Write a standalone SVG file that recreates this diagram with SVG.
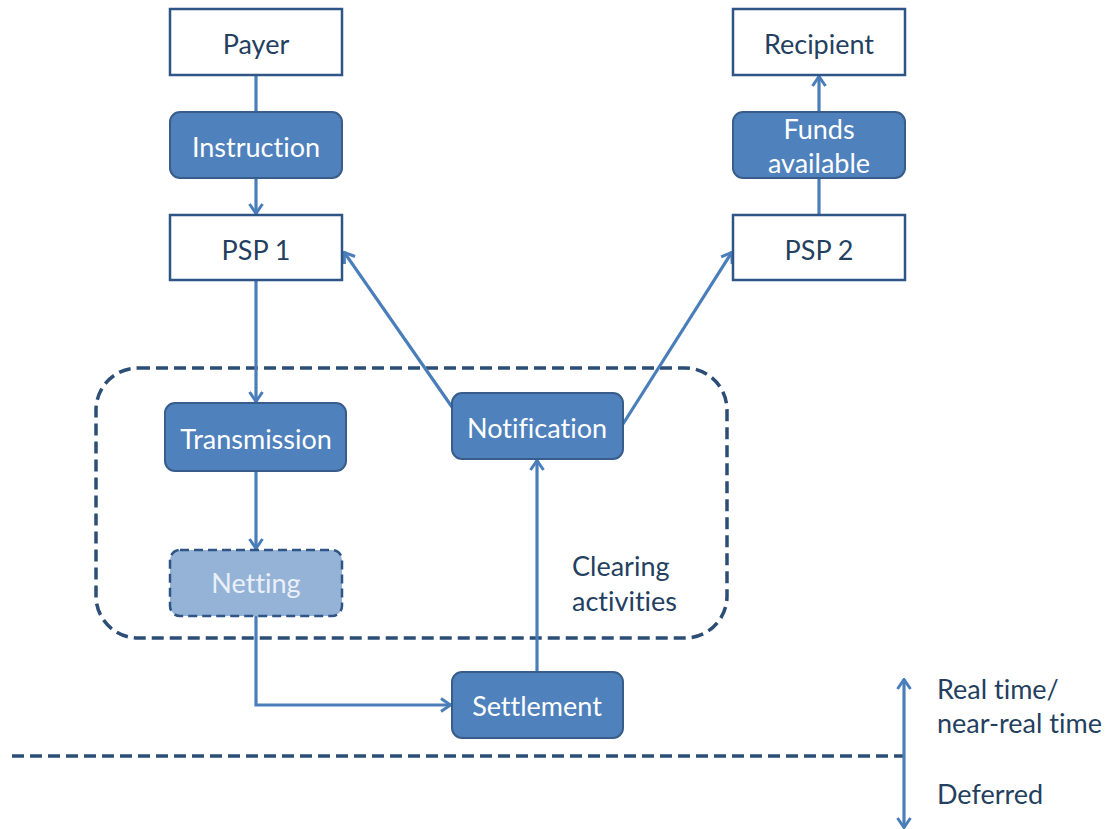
<svg xmlns="http://www.w3.org/2000/svg" width="1114" height="829" viewBox="0 0 1114 829">
<style>
.wbox{fill:#fff;stroke:#2f5587;stroke-width:2.5}
.bbox{fill:#4f81bd;stroke:#385d8a;stroke-width:2}
.nbox{fill:#95b3d7;stroke:#2f5587;stroke-width:2.5;stroke-dasharray:9 5}
.t{font-family:Lato,"Liberation Sans",sans-serif;font-size:27px;text-anchor:middle;dominant-baseline:central;font-variant-ligatures:none}
.dk{fill:#243f60}
.wt{fill:#fff}
.nt{fill:#eaf0f8}
.lbl{font-family:Lato,"Liberation Sans",sans-serif;font-size:27px;fill:#243f60;dominant-baseline:central;font-variant-ligatures:none}
.c{fill:none;stroke:#4a7ebb;stroke-width:3.2}
.dash{fill:none;stroke:#2c4d75;stroke-width:3.5;stroke-dasharray:12 6}
</style>
<defs>
<marker id="ah" viewBox="0 0 14 16" refX="13" refY="8" markerWidth="14" markerHeight="16" markerUnits="userSpaceOnUse" orient="auto-start-reverse">
<polyline points="3,1.5 12.5,8 3,14.5" fill="none" stroke="#4a7ebb" stroke-width="3"/>
</marker>
</defs>
<g id="clearing-group">
<rect class="dash" x="96" y="368" width="631" height="270" rx="42"/>
<text class="lbl" x="572" y="565">Clearing</text>
<text class="lbl" x="572" y="600">activities</text>
</g>
<g id="connectors">
<line class="c" x1="256" y1="75" x2="256" y2="112"/>
<line class="c" x1="256" y1="178" x2="256" y2="214" marker-end="url(#ah)"/>
<line class="c" x1="256" y1="280" x2="256" y2="402" marker-end="url(#ah)"/>
<line class="c" x1="256" y1="471" x2="256" y2="549" marker-end="url(#ah)"/>
<polyline class="c" points="256,616 256,705 451,705" marker-end="url(#ah)"/>
<line class="c" x1="537" y1="672" x2="537" y2="460" marker-end="url(#ah)"/>
<line class="c" x1="452" y1="407" x2="344" y2="252" marker-end="url(#ah)"/>
<line class="c" x1="623" y1="424" x2="732" y2="252" marker-end="url(#ah)"/>
<line class="c" x1="819" y1="215" x2="819" y2="178"/>
<line class="c" x1="819" y1="112" x2="819" y2="76" marker-end="url(#ah)"/>
<line class="dash" x1="12" y1="756" x2="903" y2="756"/>
<line class="c" x1="904" y1="679" x2="904" y2="828" marker-start="url(#ah)" marker-end="url(#ah)"/>
</g>
<g id="payer"><rect class="wbox" x="170" y="9" width="172" height="66"/><text class="t dk" x="256" y="43">Payer</text></g>
<g id="instruction"><rect class="bbox" x="170" y="112" width="172" height="66" rx="10"/><text class="t wt" x="256" y="146">Instruction</text></g>
<g id="psp1"><rect class="wbox" x="170" y="215" width="172" height="65"/><text class="t dk" x="256" y="249">PSP 1</text></g>
<g id="recipient"><rect class="wbox" x="733" y="9" width="172" height="66"/><text class="t dk" x="819" y="43">Recipient</text></g>
<g id="funds"><rect class="bbox" x="733" y="112" width="172" height="66" rx="10"/><text class="t wt" x="819" y="128">Funds</text><text class="t wt" x="819" y="162">available</text></g>
<g id="psp2"><rect class="wbox" x="733" y="215" width="172" height="65"/><text class="t dk" x="819" y="249">PSP 2</text></g>
<g id="transmission"><rect class="bbox" x="165" y="403" width="181" height="68" rx="10"/><text class="t wt" x="256" y="438">Transmission</text></g>
<g id="netting"><rect class="nbox" x="170" y="550" width="172" height="66" rx="10"/><text class="t nt" x="256" y="582">Netting</text></g>
<g id="notification"><rect class="bbox" x="452" y="393" width="171" height="66" rx="10"/><text class="t wt" x="537" y="427">Notification</text></g>
<g id="settlement"><rect class="bbox" x="452" y="672" width="171" height="66" rx="10"/><text class="t wt" x="537" y="705">Settlement</text></g>
<g id="legend">
<text class="lbl" x="937" y="688">Real time/</text>
<text class="lbl" x="937" y="722">near-real time</text>
<text class="lbl" x="937" y="793">Deferred</text>
</g>
</svg>
